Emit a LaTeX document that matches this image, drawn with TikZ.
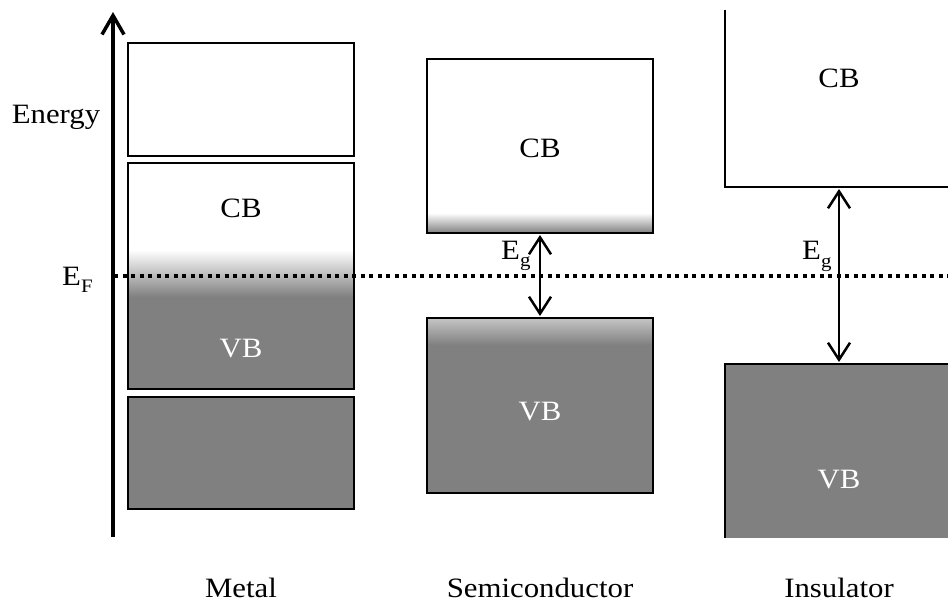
\documentclass[tikz,border=0pt]{standalone}
\usepackage{fontspec}
\setmainfont{Liberation Serif}[FakeStretch=1.1]
\usetikzlibrary{arrows.meta}
\begin{document}
\begin{tikzpicture}[x=1pt,y=-1pt,
  boxline/.style={draw=black,line width=2.5pt},
  lbl/.style={font=\fontsize{28}{32}\selectfont,inner sep=0pt,anchor=base},
  wlbl/.style={lbl,text=white},
  gaparrow/.style={line width=2.5pt,{Straight Barb[length=17pt,width=22pt]}-{Straight Barb[length=17pt,width=22pt]}},
  axisarrow/.style={line width=3.5pt,-{Straight Barb[length=19pt,width=22pt]}},
  fermi/.style={line width=3.5pt,dash pattern=on 4.2pt off 4.3pt}
]
\useasboundingbox (0,0) rectangle (948,604);
\begin{scope}
\clip (0,0) rectangle (948,604);
% ---------- Metal ----------
\path[boxline,fill=white] (128,43) rectangle (354,156);
\fill[white] (128,163) rectangle (354,250);
\shade[top color=white,bottom color=gray] (128,250) rectangle (354,297);
\fill[gray] (128,297) rectangle (354,389);
\draw[boxline] (128,163) rectangle (354,389);
\path[boxline,fill=gray] (128,397) rectangle (354,509);
% ---------- Semiconductor ----------
\fill[white] (427,59) rectangle (653,213);
\shade[top color=white,bottom color=gray] (427,213) rectangle (653,233);
\draw[boxline] (427,59) rectangle (653,233);
\shade[top color=gray!45,bottom color=gray] (427,318) rectangle (653,345);
\fill[gray] (427,345) rectangle (653,493);
\draw[boxline] (427,318) rectangle (653,493);
% ---------- Insulator ----------
\fill[white] (725,10) rectangle (960,187);
\draw[boxline] (725,10) -- (725,187) -- (960,187);
\fill[gray] (725,364) rectangle (960,538);
\draw[boxline] (725,538) -- (725,364) -- (960,364);
\end{scope}
% ---------- coordinates ----------
\coordinate (axb) at (113,537);
\coordinate (axt) at (113,12);
\coordinate (efl) at (114,276);
\coordinate (efr) at (948,276);
\coordinate (scb) at (540,235);
\coordinate (svb) at (540,316);
\coordinate (icb) at (839,189);
\coordinate (ivb) at (839,362);
% ---------- lines ----------
\draw[axisarrow] (axb) -- (axt);
\draw[fermi] (efl) -- (efr);
\draw[gaparrow] (scb) -- (svb);
\draw[gaparrow] (icb) -- (ivb);
% ---------- labels ----------
\node[lbl] (energy) at (56,124) {Energy};
\node[lbl,anchor=base west] (ef) at (62,285) {E\raisebox{-7pt}{\fontsize{19}{19}\selectfont F}};
\node[lbl] (mcb) at (241,218) {CB};
\node[wlbl] (mvb) at (241,357) {VB};
\node[lbl] (scbl) at (540,158) {CB};
\node[wlbl] (svbl) at (540,420) {VB};
\node[lbl] (icbl) at (839,88) {CB};
\node[wlbl] (ivbl) at (839,488) {VB};
\node[lbl,anchor=base west] (seg) at (501,259) {E\raisebox{-7pt}{\fontsize{19}{19}\selectfont g}};
\node[lbl,anchor=base west] (ieg) at (802,260) {E\raisebox{-7pt}{\fontsize{19}{19}\selectfont g}};
\node[lbl] (metal) at (241,597) {Metal};
\node[lbl] (semi) at (540,597) {Semiconductor};
\node[lbl] (ins) at (839,597) {Insulator};
\end{tikzpicture}
\end{document}
